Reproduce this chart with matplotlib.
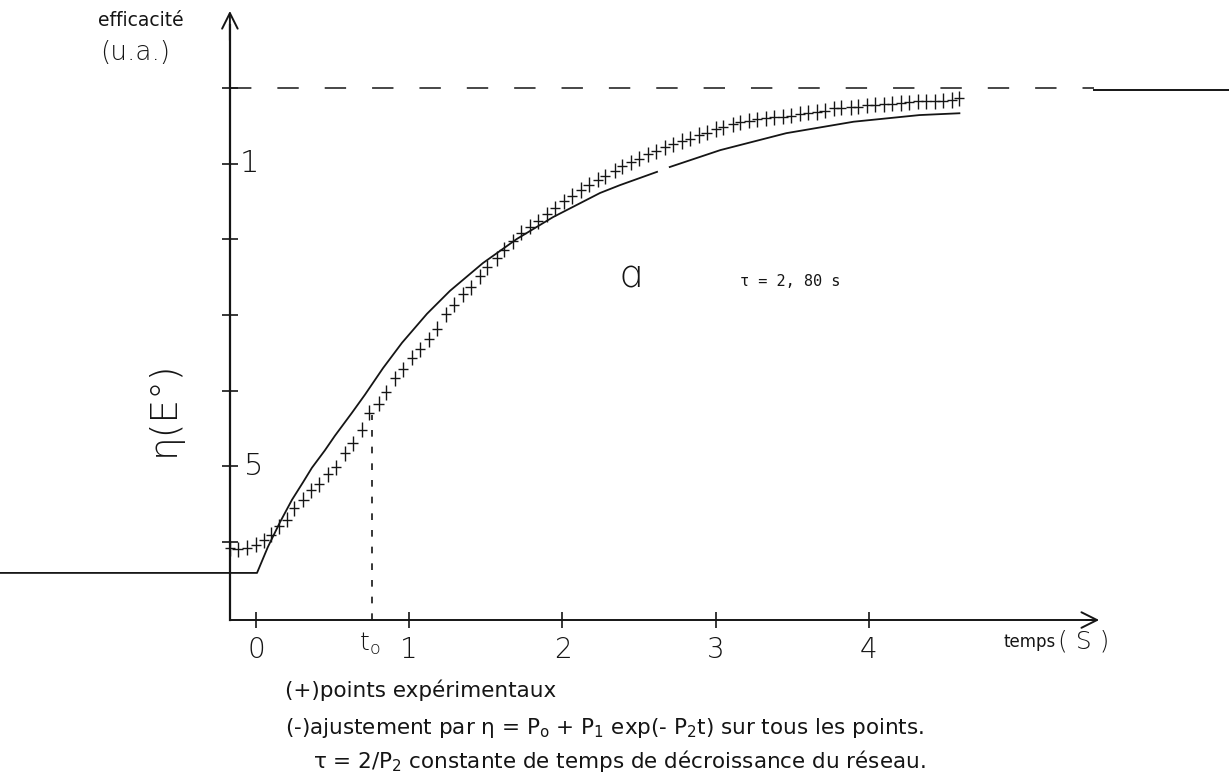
import numpy as np
import matplotlib.pyplot as plt

plt.rcParams['font.family'] = ['DejaVu Sans']
plt.rcParams['mathtext.fontset'] = 'dejavusans'

# experimental points (t in s, efficiency in u.a.)
t_exp = [-0.17, -0.12, -0.06, 0.00, 0.05, 0.10, 0.15, 0.20, 0.25, 0.31, 0.36, 0.41,
         0.47, 0.52, 0.58, 0.63, 0.69, 0.74, 0.80, 0.85, 0.91, 0.96, 1.02, 1.07,
         1.13, 1.18, 1.24, 1.29, 1.35, 1.40, 1.46, 1.51, 1.57, 1.62, 1.68, 1.73,
         1.79, 1.84, 1.90, 1.95, 2.01, 2.06, 2.12, 2.17, 2.23, 2.28, 2.34, 2.39,
         2.45, 2.50, 2.56, 2.61, 2.67, 2.72, 2.78, 2.83, 2.89, 2.94, 3.00, 3.05,
         3.11, 3.16, 3.22, 3.27, 3.33, 3.38, 3.44, 3.49, 3.55, 3.60, 3.66, 3.71,
         3.77, 3.82, 3.88, 3.93, 3.99, 4.04, 4.10, 4.15, 4.21, 4.26, 4.32, 4.37,
         4.43, 4.48, 4.54, 4.59]
eta_exp = [0.364, 0.362, 0.365, 0.370, 0.377, 0.386, 0.400, 0.411, 0.430, 0.444, 0.460, 0.470,
           0.486, 0.498, 0.521, 0.538, 0.560, 0.588, 0.603, 0.622, 0.645, 0.660, 0.679, 0.693,
           0.710, 0.727, 0.751, 0.767, 0.784, 0.796, 0.814, 0.829, 0.844, 0.858, 0.872, 0.886,
           0.896, 0.905, 0.917, 0.927, 0.938, 0.947, 0.957, 0.966, 0.974, 0.980, 0.989, 0.996,
           1.003, 1.009, 1.016, 1.021, 1.028, 1.033, 1.038, 1.042, 1.048, 1.052, 1.058, 1.061,
           1.066, 1.069, 1.072, 1.074, 1.076, 1.077, 1.078, 1.080, 1.083, 1.085, 1.086, 1.088,
           1.092, 1.093, 1.094, 1.095, 1.097, 1.098, 1.099, 1.100, 1.101, 1.102, 1.104, 1.104,
           1.104, 1.105, 1.106, 1.109]
t_err = 0.033
eta_err = 0.0125

# fitted curve (flat start before t=0), with the small gap of the original drawing
t_fit = [-1.67, 0.007, 0.078, 0.157, 0.235, 0.307, 0.365, 0.450, 0.515, 0.626, 0.711,
         0.829, 0.953, 1.116, 1.266, 1.481, 1.703, 1.938, 2.245, 2.375, 2.617, np.nan,
         2.70, 3.03, 3.46, 3.90, 4.33, 4.59]
eta_fit = [0.323, 0.323, 0.366, 0.407, 0.444, 0.473, 0.497, 0.526, 0.550, 0.588, 0.618,
           0.662, 0.704, 0.752, 0.790, 0.836, 0.876, 0.912, 0.952, 0.965, 0.987, np.nan,
           0.995, 1.023, 1.051, 1.070, 1.081, 1.084]

eta_inf = 1.125
t_zero = 0.76
eta_t0 = 0.584
x_ticks = [0, 1, 2, 3, 4]
y_ticks = [0.375, 0.5, 0.625, 0.75, 0.875, 1.0, 1.125]

fig = plt.figure(figsize=(12.29, 7.83), dpi=100)
ax = fig.add_axes([0, 0, 1, 1])
ax.set_xlim(-1.670, 6.349)
ax.set_ylim(-0.0248, 1.2715)

ink = '#151515'
x0 = -0.17
y0 = 0.245

for s in ['top', 'right']:
    ax.spines[s].set_visible(False)
ax.spines['left'].set_position(('data', x0))
ax.spines['bottom'].set_position(('data', y0))
ax.spines['left'].set_bounds(y0, 1.23)
ax.spines['bottom'].set_bounds(x0, 5.45)
ax.spines['left'].set_linewidth(1.6)
ax.spines['bottom'].set_linewidth(1.4)
ax.spines['left'].set_color(ink)
ax.spines['bottom'].set_color(ink)
ax.annotate('', xy=(x0, 1.258), xytext=(x0, 1.20),
            arrowprops=dict(arrowstyle='->', lw=1.4, color=ink, mutation_scale=28))
ax.annotate('', xy=(5.52, y0), xytext=(5.40, y0),
            arrowprops=dict(arrowstyle='->', lw=1.4, color=ink, mutation_scale=28))

ax.set_xticks(x_ticks)
ax.set_xticklabels([str(v) for v in x_ticks])
ax.set_yticks(y_ticks)
ax.set_yticklabels([])
ax.tick_params(axis='both', direction='inout', length=11, width=1.2, color=ink)
ax.tick_params(axis='x', labelsize=20, pad=6, labelcolor=ink)
for lab in ax.get_xticklabels():
    lab.set_fontweight('ultralight')

ax.text(-0.105, 1.0, '1', fontsize=22, fontweight='ultralight', color=ink, va='center', ha='left')
ax.text(-0.075, 0.5, '5', fontsize=22, fontweight='ultralight', color=ink, va='center', ha='left')

# asymptote: dashed, then solid beyond the axis arrow
ax.plot([x0, 5.47], [eta_inf, eta_inf], color=ink, lw=1.1, dashes=(14, 17))
ax.plot([5.47, 6.35], [eta_inf - 0.003, eta_inf - 0.003], color=ink, lw=1.4)

# t0 marker
ax.plot([t_zero, t_zero], [y0, eta_t0], color=ink, lw=1.2, dashes=(4, 6))
ax.text(t_zero - 0.02, 0.205, r'$\mathregular{t_o}$', fontsize=18, color=ink,
        ha='center', va='center', fontweight='light')

ax.plot(t_fit, eta_fit, color=ink, lw=1.3)
ax.errorbar(t_exp, eta_exp, xerr=t_err, yerr=eta_err, fmt='none',
            ecolor=ink, elinewidth=1.0, capsize=0)

ax.text(2.44, 0.813, 'ɑ', fontsize=28, fontweight='ultralight', color=ink, ha='center', va='center')
ax.text(3.16, 0.805, 'τ = 2, 80 s', fontsize=11, family='DejaVu Sans Mono', color=ink,
        ha='left', va='center')

ax.text(-0.75, 1.238, 'efficacité', fontsize=13.5, color=ink, ha='center', va='center')
ax.text(-0.79, 1.184, '(u.a.)', fontsize=19, fontweight='ultralight', color=ink,
        ha='center', va='center')
ax.text(-0.60, 0.595, 'η(E°)', fontsize=27, fontweight='ultralight', color=ink,
        rotation=90, ha='center', va='center')

ax.text(4.88, 0.208, 'temps', fontsize=12, color=ink, ha='left', va='center')
ax.text(5.23, 0.210, '( S )', fontsize=18, fontweight='ultralight', color=ink,
        ha='left', va='center')

ax.text(0.19, 0.128, '(+)points expérimentaux', fontsize=15.5, color=ink, ha='left', va='center')
ax.text(0.19, 0.067,
        r'(-)ajustement par η = $\mathregular{P_o}$ + $\mathregular{P_1}$ exp(- $\mathregular{P_2}$t) sur tous les points.',
        fontsize=15.5, color=ink, ha='left', va='center')
ax.text(0.37, 0.012,
        r'τ = 2/$\mathregular{P_2}$ constante de temps de décroissance du réseau.',
        fontsize=15.5, color=ink, ha='left', va='center')

fig.savefig('out.png', dpi=100, facecolor='white')
